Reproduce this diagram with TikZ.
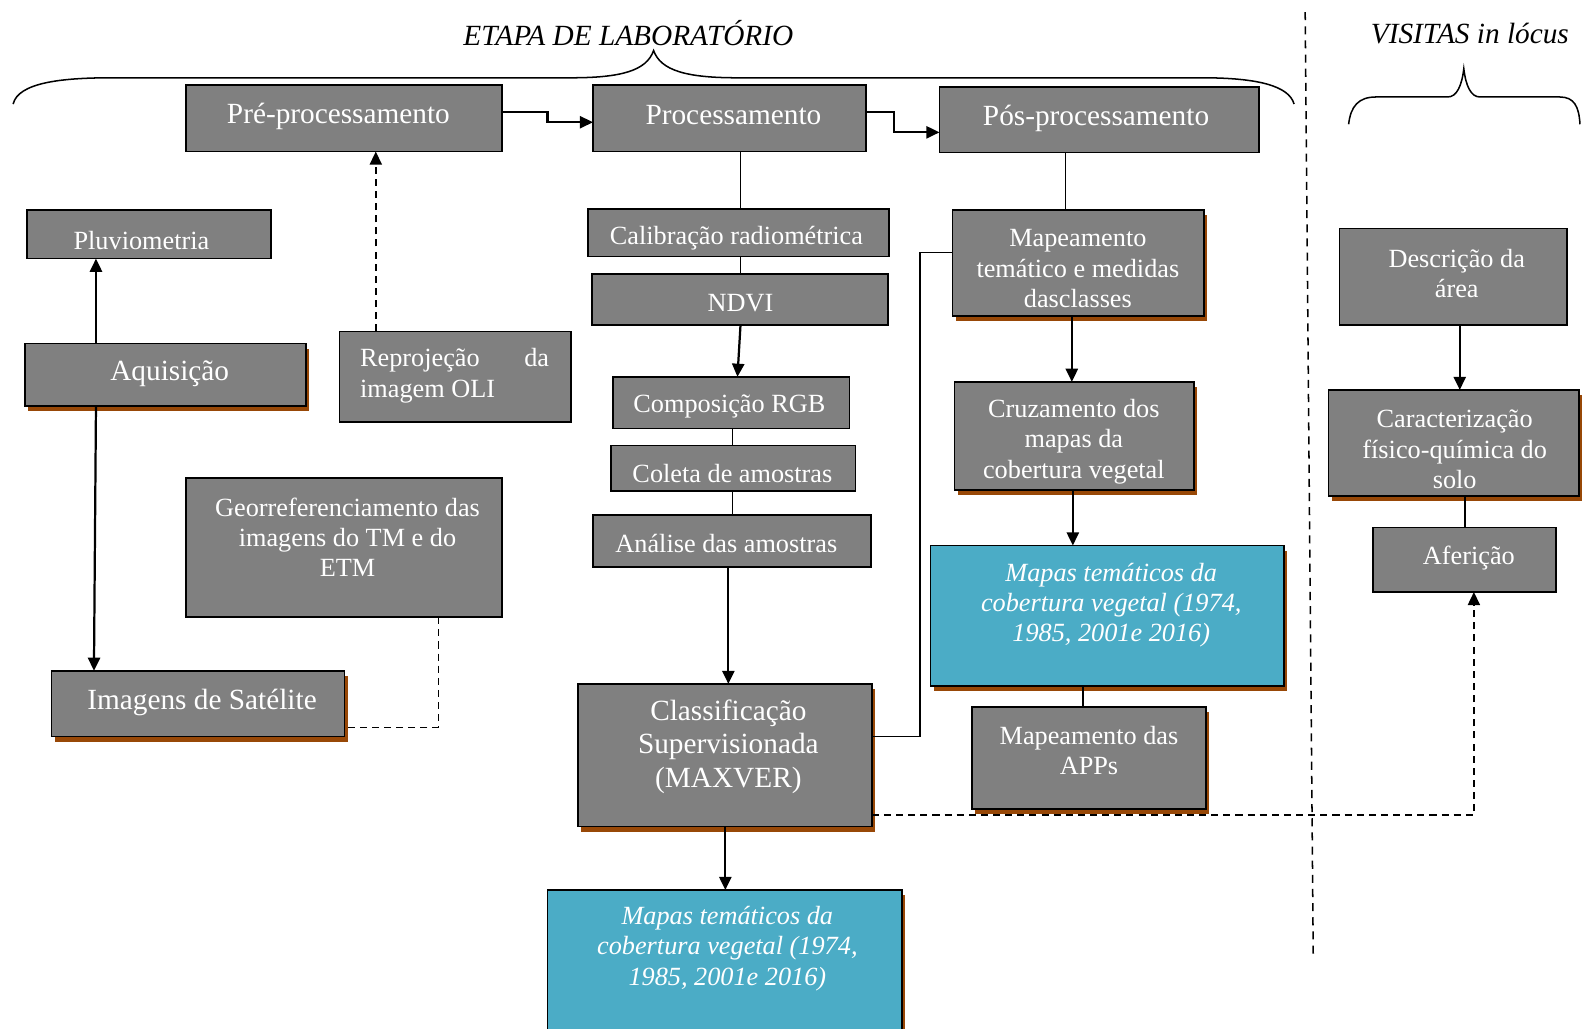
\documentclass[tikz,border=0pt]{standalone}
\usepackage{fontspec}
\setmainfont{Liberation Serif}
\usetikzlibrary{arrows.meta,shadows}
\definecolor{boxgray}{HTML}{808080}
\definecolor{boxcyan}{HTML}{4BACC6}
\definecolor{shbrown}{HTML}{984807}
\newcommand\fsz[2]{\fontsize{#1}{#2}\selectfont}
\newcommand\mybox[6]{\node[#1, minimum width={(#5-#3)*0.5pt}, minimum height={(#6-#4)*0.5pt}] (#2) at ({(#3+#5)/2},{(#4+#6)/2}) {};}
\begin{document}
\begin{tikzpicture}[x=0.5pt,y=-0.5pt,
 gbox/.style={draw=black, line width=0.8pt, fill=boxgray, inner sep=0pt, outer sep=0pt},
 cbox/.style={gbox, fill=boxcyan},
 shad/.style={drop shadow={fill=shbrown, opacity=1, shadow xshift=1.6pt, shadow yshift=-2.6pt}},
 txt/.style={text=white, align=center, inner sep=0pt, font=\fsz{13}{15}, yshift=-1pt},
 big/.style={txt, font=\fsz{14.5}{16.5}},
 itx/.style={txt, font=\fsz{13}{15}\itshape},
 tip/.style={-{Triangle[length=6.5pt,width=6pt]}},
 arr/.style={line width=1.1pt, tip},
 ln/.style={line width=0.7pt},
 dsh/.style={line width=0.8pt, dash pattern=on 3.5pt off 2.5pt},
]
\clip (0,0) rectangle (1568,1018);
% titles
\node[font=\fsz{14.5}{16}\itshape, inner sep=0pt] (t1) at (622,33) {ETAPA DE LABORATÓRIO};
\node[font=\fsz{14.5}{16}\itshape, inner sep=0pt] (t2) at (1455,33) {VISITAS in lócus};
% braces
\draw[line width=0.75pt] (13,103) .. controls (18,82) and (60,77) .. (110,77) -- (565,77) .. controls (615,77) and (640,70) .. (647,50) .. controls (654,70) and (680,77) .. (730,77) -- (1190,77) .. controls (1245,77) and (1276,85) .. (1281,103);
\draw[line width=0.75pt] (1335,123) .. controls (1337,105) and (1345,96) .. (1362,96) -- (1433,96) .. controls (1442,96) and (1447,85) .. (1449,68) .. controls (1451,85) and (1456,96) .. (1465,96) -- (1544,96) .. controls (1558,96) and (1563,105) .. (1564,123);
% separator
\coordinate (s1) at (1292,12);
\coordinate (s2) at (1300,948);
\draw[line width=0.75pt, dash pattern=on 4pt off 3pt] (s1) -- (s2);
% boxes
\mybox{gbox}{pre}{184}{84}{497}{150}
\mybox{gbox}{proc}{587}{84}{857}{150}
\mybox{gbox}{pos}{930}{86}{1246}{151}
\mybox{gbox}{pluv}{27}{208}{268}{256}
\mybox{gbox,shad}{aqui}{25}{340}{303}{402}
\mybox{gbox}{repr}{336}{328}{565}{418}
\mybox{gbox}{cal}{582}{207}{880}{254}
\mybox{gbox}{ndvi}{586}{271}{879}{322}
\mybox{gbox}{rgb}{607}{373}{841}{424}
\mybox{gbox}{col}{605}{441}{847}{486}
\mybox{gbox}{ana}{587}{510}{862}{561}
\mybox{gbox}{geo}{184}{473}{497}{611}
\mybox{gbox,shad}{img}{51}{664}{341}{729}
\mybox{gbox,shad}{cls}{572}{677}{863}{818}
\mybox{cbox,shad}{mapa}{542}{881}{893}{1040}
\mybox{gbox,shad}{mtem}{943}{208}{1192}{313}
\mybox{gbox,shad}{cruz}{945}{378}{1182}{485}
\mybox{cbox,shad}{mapb}{921}{540}{1271}{679}
\mybox{gbox,shad}{app}{962}{700}{1194}{801}
\mybox{gbox}{desc}{1326}{226}{1551}{322}
\mybox{gbox,shad}{car}{1315}{386}{1563}{491}
\mybox{gbox}{afe}{1359}{522}{1540}{586}
% texts
\node[big] (preT) at (335,113) {Pré-processamento};
\node[big] (procT) at (726,112) {Processamento};
\node[big] (posT) at (1085,115) {Pós-processamento};
\node[txt] (pluvT) at (140,236) {Pluviometria};
\node[big] (aquiT) at (168,368) {Aquisição};
\node[txt, align=left] (reprT) at (450,370) {\hbox to 93.5pt{Reprojeção\hfill da}\\imagem OLI};
\node[txt] (calT) at (729,234) {Calibração radiométrica};
\node[txt] (ndviT) at (733,298) {NDVI};
\node[txt] (rgbT) at (722,400) {Composição RGB};
\node[txt] (colT) at (725,467) {Coleta de amostras};
\node[txt] (anaT) at (719,536) {Análise das amostras};
\node[txt] (geoT) at (344,530) {Georreferenciamento das\\imagens do TM e do\\ETM};
\node[big] (imgT) at (200,693) {Imagens de Satélite};
\node[big] (clsT) at (721,737) {Classificação\\Supervisionada\\(MAXVER)};
\node[itx] (mapaT) at (720,937) {Mapas temáticos da\\cobertura vegetal (1974,\\1985, 2001e 2016)};
\node[txt] (mtemT) at (1067,264) {Mapeamento\\temático e medidas\\dasclasses};
\node[txt] (cruzT) at (1063,435) {Cruzamento dos\\mapas da\\cobertura vegetal};
\node[itx] (mapbT) at (1100,597) {Mapas temáticos da\\cobertura vegetal (1974,\\1985, 2001e 2016)};
\node[txt] (appT) at (1078,741) {Mapeamento das\\APPs};
\node[txt] (descT) at (1442,269) {Descrição da\\área};
\node[txt] (carT) at (1440,443) {Caracterização\\físico-química do\\solo};
\node[txt] (afeT) at (1454,550) {Aferição};
% connectors
\coordinate (e1) at (542,111); \coordinate (e1b) at (542,121);
\draw[arr] (pre.east |- e1) -- (e1) -- (e1b) -- (proc.west |- e1b);
\coordinate (e2) at (885,111); \coordinate (e2b) at (885,131);
\draw[arr] (proc.east |- e2) -- (e2) -- (e2b) -- (pos.west |- e2b);
\coordinate (v1) at (733,0);
\draw[ln] (proc.south -| v1) -- (cal.north -| v1);
\draw[ln] (cal.south -| v1) -- (ndvi.north -| v1);
\coordinate (v1b) at (730,0);
\draw[arr] (ndvi.south -| v1) -- (rgb.north -| v1b);
\coordinate (v2) at (725,0);
\draw[ln] (rgb.south -| v2) -- (col.north -| v2);
\draw[ln] (col.south -| v2) -- (ana.north -| v2);
\coordinate (v3) at (721,0);
\draw[arr] (ana.south -| v3) -- (cls.north -| v3);
\coordinate (v4) at (718,0);
\draw[arr] (cls.south -| v4) -- (mapa.north -| v4);
\coordinate (e3) at (911,729); \coordinate (e3b) at (911,250);
\draw[line width=0.9pt] (cls.east |- e3) -- (e3) -- (e3b) -- (mtem.west |- e3b);
\coordinate (v5) at (1055,0);
\draw[ln] (pos.south -| v5) -- (mtem.north -| v5);
\coordinate (v6) at (1061,0);
\draw[arr] (mtem.south -| v6) -- (cruz.north -| v6);
\coordinate (v7) at (1062,0);
\draw[arr] (cruz.south -| v7) -- (mapb.north -| v7);
\coordinate (v8) at (1072,0);
\draw[ln] (mapb.south -| v8) -- (app.north -| v8);
\coordinate (e4) at (1459,807);
\draw[dsh, tip] (cls.east |- e4) -- (e4) -- (afe.south -| e4);
\coordinate (v9) at (95,0); \coordinate (v9b) at (93,0);
\draw[arr] (aqui.north -| v9) -- (pluv.south -| v9);
\draw[arr] (aqui.south -| v9) -- (img.north -| v9b);
\coordinate (v10) at (372,0);
\draw[dsh, tip] (repr.north -| v10) -- (pre.south -| v10);
\coordinate (e5) at (434,720);
\draw[dsh] (geo.south -| e5) -- (e5) -- (img.east |- e5);
\coordinate (v11) at (1445,0);
\draw[arr] (desc.south -| v11) -- (car.north -| v11);
\coordinate (v12) at (1450,0);
\draw[ln] (car.south -| v12) -- (afe.north -| v12);
\end{tikzpicture}
\end{document}
